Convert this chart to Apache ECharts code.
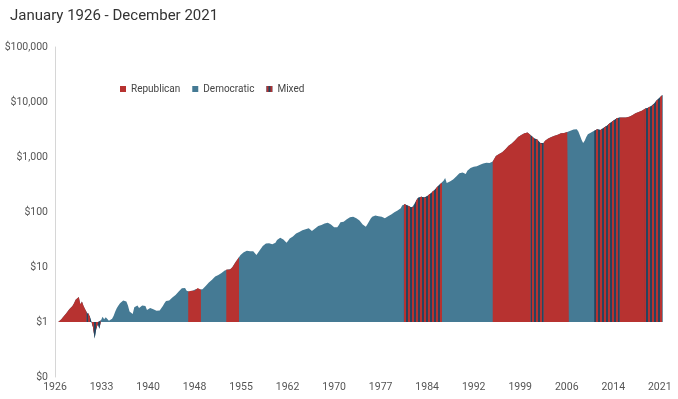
<!DOCTYPE html>
<html>
<head>
<meta charset="utf-8">
<title>Growth of $1, January 1926 - December 2021</title>
<script src="https://cdn.jsdelivr.net/npm/echarts@6/dist/echarts.min.js"></script>
<style>
  html, body { margin: 0; background: #fff; }
  #chart { width: 678px; height: 399px; }
</style>
</head>
<body>
<div id="chart"></div>
<script>
// growth of $1, one value per quarter (Jan, Apr, Jul, Oct)
const values = [
  1.00, 0.93, 1.00, 1.06,   // 1926
  1.12, 1.22, 1.32, 1.42,   // 1927
  1.52, 1.70, 1.75, 1.95,   // 1928
  2.20, 2.55, 2.75, 2.85,   // 1929
  2.10, 2.35, 1.95, 1.70,   // 1930
  1.50, 1.45, 1.25, 1.00,   // 1931
  0.80, 0.50, 0.75, 0.92,   // 1932
  0.75, 1.08, 1.25, 1.12,   // 1933
  1.22, 1.18, 1.05, 1.07,   // 1934
  1.15, 1.30, 1.55, 1.80,   // 1935
  2.00, 2.20, 2.30, 2.45,   // 1936
  2.42, 2.35, 2.00, 1.55,   // 1937
  1.55, 1.40, 1.85, 1.90,   // 1938
  2.00, 1.80, 1.80, 2.00,   // 1939
  1.95, 1.95, 1.65, 1.75,   // 1940
  1.80, 1.70, 1.70, 1.75,   // 1941
  1.60, 1.48, 1.62, 1.78,   // 1942
  1.95, 2.20, 2.40, 2.38,   // 1943
  2.45, 2.60, 2.80, 2.85,   // 1944
  3.10, 3.35, 3.60, 3.85,   // 1945
  4.10, 4.35, 4.15, 3.70,   // 1946
  3.60, 3.55, 3.70, 3.75,   // 1947
  3.70, 4.00, 4.15, 3.90,   // 1948
  3.85, 3.95, 4.15, 4.50,   // 1949
  4.85, 5.20, 5.50, 5.85,   // 1950
  6.35, 6.70, 6.90, 7.15,   // 1951
  7.50, 7.80, 8.15, 8.60,   // 1952
  9.00, 9.00, 8.90, 9.20,   // 1953
  10.0, 11.2, 12.5, 13.3,   // 1954
  15.0, 16.5, 17.5, 18.5,   // 1955
  19.3, 19.8, 19.6, 19.3,   // 1956
  19.0, 19.3, 18.0, 16.6,   // 1957
  17.5, 20.0, 21.5, 24.0,   // 1958
  25.5, 26.8, 27.3, 27.0,   // 1959
  26.5, 26.0, 26.8, 27.5,   // 1960
  31.0, 33.0, 34.2, 34.0,   // 1961
  31.5, 29.0, 27.5, 30.0,   // 1962
  33.0, 35.0, 36.0, 38.0,   // 1963
  40.5, 42.0, 43.5, 44.5,   // 1964
  46.5, 47.5, 48.5, 49.5,   // 1965
  50.5, 48.5, 45.0, 42.5,   // 1966
  50.0, 53.0, 55.5, 56.5,   // 1967
  58.0, 57.0, 62.0, 63.5,   // 1968
  64.0, 62.0, 59.5, 56.0,   // 1969
  53.0, 50.5, 53.0, 58.0,   // 1970
  65.0, 67.5, 66.5, 70.0,   // 1971
  73.5, 77.5, 80.0, 81.0,   // 1972
  82.0, 80.0, 77.0, 74.0,   // 1973
  70.0, 65.0, 59.0, 55.0,   // 1974
  54.0, 60.0, 67.0, 75.0,   // 1975
  82, 85, 86, 85,           // 1976
  84, 82, 82, 80,           // 1977
  77, 80, 84, 88,           // 1978
  90, 94, 99, 104,          // 1979
  107, 110, 117, 132,       // 1980
  138, 137, 133, 128,       // 1981
  123, 121, 122, 145,       // 1982
  165, 182, 188, 190,       // 1983
  188, 184, 180, 198,       // 1984
  210, 220, 236, 245,       // 1985
  265, 285, 305, 325,       // 1986
  338, 370, 415, 335,       // 1987
  350, 360, 370, 390,       // 1988
  410, 440, 470, 505,       // 1989
  515, 520, 520, 490,       // 1990
  560, 600, 630, 650,       // 1991
  665, 675, 680, 700,       // 1992
  725, 750, 760, 780,       // 1993
  790, 765, 775, 800,       // 1994
  830, 930, 1040, 1100,     // 1995
  1130, 1180, 1220, 1300,   // 1996
  1380, 1480, 1600, 1680,   // 1997
  1760, 1900, 1990, 2150,   // 1998
  2300, 2420, 2500, 2600,   // 1999
  2700, 2750, 2780, 2700,   // 2000
  2480, 2330, 2200, 2120,   // 2001
  2090, 2000, 1800, 1720,   // 2002
  1800, 1980, 2080, 2160,   // 2003
  2250, 2320, 2380, 2430,   // 2004
  2480, 2550, 2640, 2690,   // 2005
  2700, 2730, 2780, 2850,   // 2006
  2900, 3000, 3080, 3150,   // 2007
  3210, 3200, 2900, 2450,   // 2008
  2050, 1790, 1980, 2300,   // 2009
  2580, 2700, 2790, 2700,   // 2010
  3000, 3100, 3200, 3050,   // 2011
  3100, 3300, 3400, 3550,   // 2012
  3700, 3950, 4150, 4370,   // 2013
  4550, 4780, 5000, 5150,   // 2014
  5240, 5250, 5250, 5200,   // 2015
  5230, 5300, 5400, 5500,   // 2016
  5750, 6000, 6250, 6350,   // 2017
  6550, 6700, 6950, 7150,   // 2018
  7500, 7700, 7900, 8200,   // 2019
  8500, 8700, 9500, 10400,  // 2020
  11000, 11800, 12600, 13400 // 2021
]

// who held Congress, from each start month on
const periodStarts = ['1926-01', '1931-01', '1933-04', '1947-01', '1949-01', '1953-01', '1955-01', '1981-01',
  '1987-01', '1995-01', '2001-01', '2003-01', '2007-01', '2011-01', '2015-01', '2019-01']
const periodParty = ['Republican', 'Mixed', 'Democratic', 'Republican', 'Democratic', 'Republican', 'Democratic', 'Mixed',
  'Democratic', 'Republican', 'Mixed', 'Republican', 'Democratic', 'Mixed', 'Republican', 'Mixed']

const parties = ['Republican', 'Democratic', 'Mixed']
const firstYear = 1926
const labelStep = 88   // months between x labels

const RED = '#b73230'
const BLUE = '#457a94'
const NAVY = '#27445e'

const monthOf = s => (Number(s.slice(0, 4)) - firstYear) * 12 + Number(s.slice(5, 7)) - 1

const partyOf = values.map((v, i) => {
  let p = periodParty[0]
  periodStarts.forEach((s, k) => { if (monthOf(s) <= i * 3) p = periodParty[k] })
  return p
})

// Democratic is drawn under everything so the seams between periods don't show white;
// the others keep their own quarters plus the first quarter of the next period
function seriesData(p) {
  if (p === 'Democratic') return values.map((v, i) => [i * 3, v])
  return values.map((v, i) => [i * 3, (partyOf[i] === p || partyOf[i - 1] === p) ? v : '-'])
}

const styles = {
  Republican: { color: RED },
  Democratic: { color: BLUE },
  Mixed: {
    color: NAVY,
    decal: { symbol: 'rect', symbolSize: 1, color: RED, dashArrayX: [2, 2], dashArrayY: [4, 0], rotation: 0 }
  }
}

const chart = echarts.init(document.getElementById('chart'))
chart.setOption({
  animation: false,
  backgroundColor: '#fff',
  textStyle: { fontFamily: 'Roboto' },
  title: {
    text: 'January 1926 - December 2021',
    left: 5, top: 4,
    textStyle: { fontSize: 15, fontWeight: 'normal', color: '#333' }
  },
  legend: {
    data: parties,
    left: 115, top: 79,
    icon: 'rect', itemWidth: 6, itemHeight: 6, itemGap: 12,
    textStyle: { fontSize: 10, color: '#444' }
  },
  grid: { left: 55, right: 14, top: 47, bottom: 22, containLabel: false },
  xAxis: {
    type: 'value', min: 0, max: values.length * 3, interval: labelStep,
    axisLine: { show: false }, axisTick: { show: false }, splitLine: { show: false },
    axisLabel: {
      color: '#555', fontSize: 10.5, margin: 5,
      formatter: v => v % labelStep === 0 ? String(firstYear + Math.floor(v / 12)) : ''
    }
  },
  yAxis: {
    type: 'log', logBase: 10, min: 0.1, max: 100000,
    axisLine: { show: true, lineStyle: { color: '#d6d6d6', width: 1 } },
    axisTick: { show: false }, splitLine: { show: false },
    axisLabel: {
      color: '#555', fontSize: 10.5, margin: 7,
      formatter: v => '$' + Math.round(v).toLocaleString('en-US')
    }
  },
  series: ['Democratic', 'Republican', 'Mixed'].map((p, k) => ({
    name: p,
    type: 'line',
    z: 2 + k,
    data: seriesData(p),
    showSymbol: false,
    symbol: 'none',
    itemStyle: styles[p],
    lineStyle: { width: 0 },
    areaStyle: { origin: 1, opacity: 1 }
  }))
})
</script>
</body>
</html>
